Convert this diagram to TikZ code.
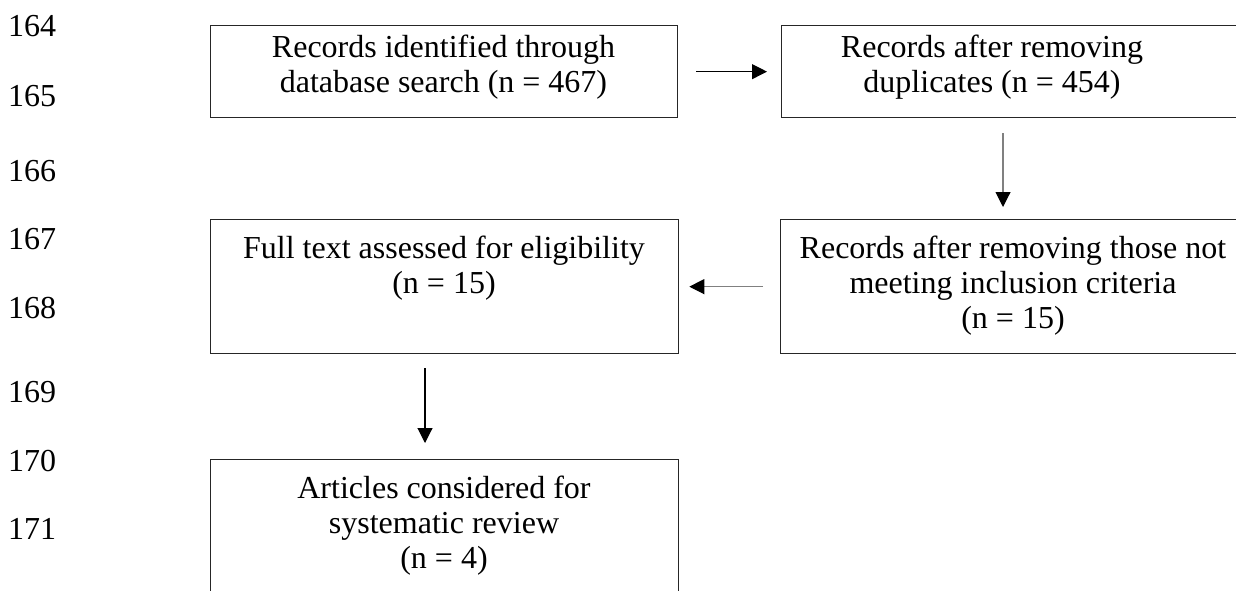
\documentclass[tikz,border=0pt]{standalone}
\usepackage{fontspec}
\setmainfont{Liberation Serif}
\usetikzlibrary{arrows.meta}
\begin{document}
\begin{tikzpicture}[x=1pt,y=-1pt,
  box/.style={draw=black!85, line width=1.3pt, inner sep=0pt, anchor=north west},
  txt/.style={font=\fontsize{32}{35}\selectfont, align=center, inner sep=0pt, anchor=north},
  lnum/.style={font=\fontsize{32}{35}\selectfont, anchor=base west, inner sep=0pt},
  arr/.style={line width=1.1pt, -{Triangle[length=15pt,width=15pt,color=black]}},
  garr/.style={arr, draw=black!50},
]
\useasboundingbox (0,0) rectangle (1236,591);
\fill[white] (0,0) rectangle (1236,591);
% line numbers
\node[lnum] (l164) at (8,37) {164};
\node[lnum] (l165) at (8,107) {165};
\node[lnum] (l166) at (8,181) {166};
\node[lnum] (l167) at (8,249) {167};
\node[lnum] (l168) at (8,318) {168};
\node[lnum] (l169) at (8,402) {169};
\node[lnum] (l170) at (8,471) {170};
\node[lnum] (l171) at (8,539) {171};
\begin{scope}
\clip (0,0) rectangle (1236,591);
\node[box, minimum width=467pt, minimum height=92pt] (b1) at (210,25) {};
\node[box, minimum width=470pt, minimum height=92pt] (b2) at (781,25) {};
\node[box, minimum width=470pt, minimum height=134pt] (b3) at (780,219) {};
\node[box, minimum width=468pt, minimum height=134pt] (b4) at (210,219) {};
\node[box, minimum width=468pt, minimum height=160pt] (b5) at (210,459) {};
\end{scope}
\node[txt] (t1) at (443.5,35) {Records identified through\\database search (n = 467)};
\node[txt] (t2) at (992,35) {Records after removing\\duplicates (n = 454)};
\node[txt] (t3) at (1013,236) {Records after removing those not\\meeting inclusion criteria\\(n = 15)};
\node[txt] (t4) at (444,236) {Full text assessed for eligibility\\(n = 15)};
\node[txt] (t5) at (444,476) {Articles considered for\\systematic review\\(n = 4)};
\coordinate (a2x) at (1003,0);
\coordinate (a4x) at (425,0);
\draw[arr] ([xshift=18pt]b1.east) -- ([xshift=-14pt]b2.west);
\draw[garr] ([yshift=-15pt]b2.south -| a2x) -- ([yshift=12pt]b3.north -| a2x);
\draw[garr] ([xshift=-17pt]b3.west) -- ([xshift=10pt]b4.east);
\draw[arr] ([yshift=-14pt]b4.south -| a4x) -- ([yshift=16pt]b5.north -| a4x);
\end{tikzpicture}
\end{document}
